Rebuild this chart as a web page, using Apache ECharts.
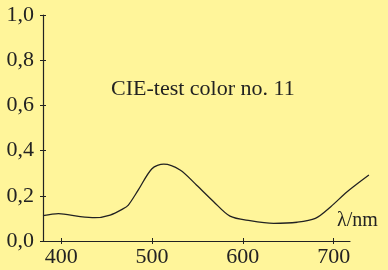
<!doctype html>
<html>
<head>
  <meta charset="utf-8">
  <title>index</title>
  <script src="https://cdn.jsdelivr.net/npm/echarts@6/dist/echarts.min.js"></script>
  <style>
    html, body { margin: 0; padding: 0; background: #fff59a; }
    #main { width: 388px; height: 270px; }
  </style>
</head>
<body>
  <div id="main"></div>
  <script>
    // wavelength (nm) and spectral reflectance
    var wavelengths = [380, 397, 421, 437, 454, 468, 474, 485, 500, 513, 531, 549, 568, 586, 608, 634, 660, 680, 697, 715, 739];
    var reflectance = [0.112, 0.121, 0.108, 0.103, 0.115, 0.142, 0.159, 0.226, 0.32, 0.34, 0.314, 0.248, 0.174, 0.11, 0.09, 0.078, 0.083, 0.10, 0.152, 0.218, 0.292];
    var xTicks = [400, 500, 600, 700];

    var ink = '#222';
    var font = 'Liberation Serif';

    var points = wavelengths.map(function (w, i) { return [w, reflectance[i]]; });

    var chart = echarts.init(document.getElementById('main'));
    var baseX = {
      type: 'value', min: 380, max: 718, gridIndex: 0, position: 'bottom',
      splitLine: { show: false },
      axisLine: { show: true, lineStyle: { color: ink, width: 1.2 } },
      axisTick: { show: true, length: 3, customValues: xTicks, lineStyle: { color: ink, width: 1 } },
      axisLabel: { customValues: xTicks, color: ink, fontFamily: font, fontSize: 22, margin: 5 }
    };
    var baseY = {
      type: 'value', min: 0, max: 1, interval: 0.2, gridIndex: 0, position: 'left',
      splitLine: { show: false },
      axisLine: { show: true, lineStyle: { color: ink, width: 1.2 } },
      axisTick: { show: true, length: 3, lineStyle: { color: ink, width: 1 } },
      axisLabel: {
        color: ink, fontFamily: font, fontSize: 22, margin: 9,
        formatter: function (v) { return v.toFixed(1).replace('.', ','); }
      }
    };
    chart.setOption({
      backgroundColor: '#fff59a',
      animation: false,
      grid: [
        { left: 43, right: 38, top: 15, bottom: 29 },
        // same scale, wider to the right: the curve runs past the axis end
        { left: 43, right: 20, top: 15, bottom: 29 }
      ],
      xAxis: [
        baseX,
        Object.assign({}, baseX, {
          axisLine: { show: false, onZero: false },
          axisTick: { show: true, inside: true, length: 3, customValues: xTicks, lineStyle: { color: ink, width: 1 } },
          axisLabel: { show: false }
        }),
        { type: 'value', min: 380, max: 738, gridIndex: 1, show: false }
      ],
      yAxis: [
        baseY,
        Object.assign({}, baseY, {
          axisLine: { show: false, onZero: false },
          axisTick: { show: true, inside: true, length: 3, lineStyle: { color: ink, width: 1 } },
          axisLabel: { show: false }
        }),
        { type: 'value', min: 0, max: 1, gridIndex: 1, show: false }
      ],
      graphic: [
        { type: 'text', left: 111, top: 78, style: { text: 'CIE-test color no. 11', fill: ink, font: '22px "Liberation Serif"' } },
        { type: 'text', left: 337, top: 211, style: { text: 'λ/nm', fill: ink, font: '20px "Liberation Serif"' } }
      ],
      series: [{
        type: 'line',
        xAxisIndex: 2,
        yAxisIndex: 2,
        data: points,
        smooth: 0.3,
        showSymbol: false,
        lineStyle: { color: ink, width: 1.3 }
      }]
    });
  </script>
</body>
</html>
